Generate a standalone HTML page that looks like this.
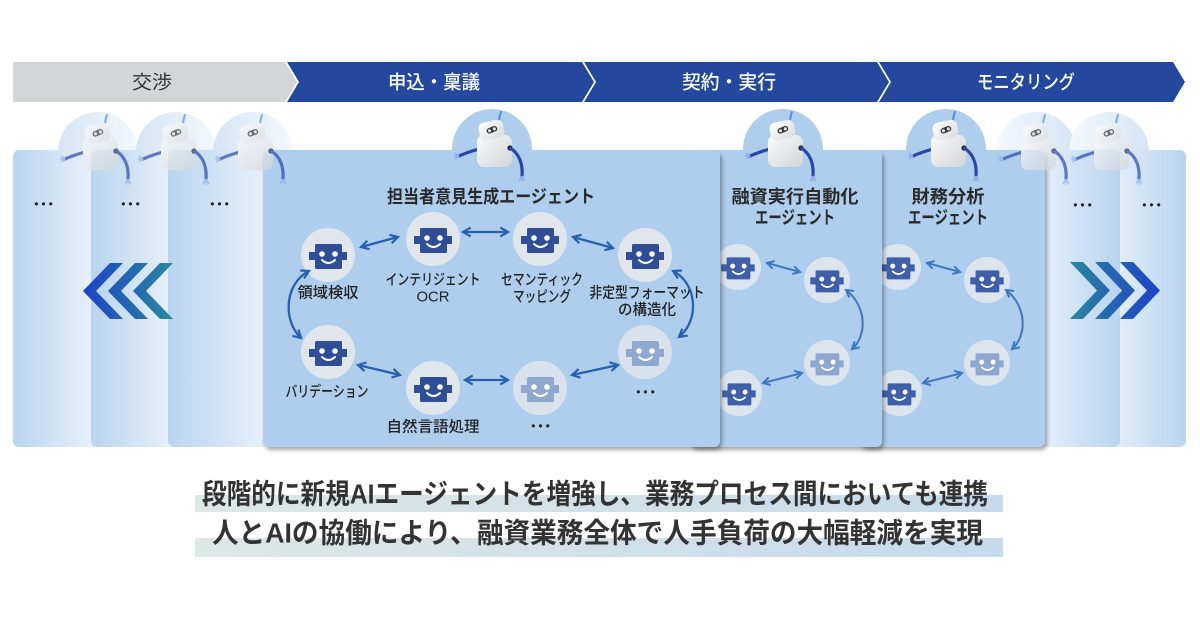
<!DOCTYPE html>
<html><head><meta charset="utf-8"><style>
html,body{margin:0;padding:0;background:#fff;}
svg{display:block;}
</style></head><body>
<svg width="1200" height="630" viewBox="0 0 1200 630" xmlns="http://www.w3.org/2000/svg" font-family="'Liberation Sans','Noto Sans CJK JP',sans-serif">
<defs>
  <linearGradient id="lp" x1="0" y1="0" x2="1" y2="0"><stop offset="0" stop-color="#b9d4ef"/><stop offset="1" stop-color="#ebf3fc"/></linearGradient>
  <linearGradient id="rp" x1="0" y1="0" x2="1" y2="0"><stop offset="0" stop-color="#ebf3fc"/><stop offset="1" stop-color="#b9d4ef"/></linearGradient>
  <linearGradient id="fcl" x1="0" y1="0" x2="1" y2="0"><stop offset="0" stop-color="#d5e5f5"/><stop offset="1" stop-color="#f3f8fd"/></linearGradient>
  <linearGradient id="fcr" x1="0" y1="0" x2="1" y2="0"><stop offset="0" stop-color="#f3f8fd"/><stop offset="1" stop-color="#d5e5f5"/></linearGradient>
  <linearGradient id="chl" gradientUnits="userSpaceOnUse" x1="83" y1="0" x2="172" y2="0"><stop offset="0" stop-color="#1c43c6"/><stop offset="1" stop-color="#2b86a0"/></linearGradient>
  <linearGradient id="chr" gradientUnits="userSpaceOnUse" x1="1070" y1="0" x2="1158" y2="0"><stop offset="0" stop-color="#2b86a0"/><stop offset="1" stop-color="#1c43c6"/></linearGradient>
  <linearGradient id="bodyG" x1="0" y1="0" x2="1" y2="1"><stop offset="0" stop-color="#fbfbfb"/><stop offset="1" stop-color="#d2d4d8"/></linearGradient>
  <linearGradient id="headG" x1="0" y1="0" x2="1" y2="1"><stop offset="0" stop-color="#ffffff"/><stop offset="1" stop-color="#d9dbdf"/></linearGradient>
  <linearGradient id="hl" x1="0" y1="0" x2="1" y2="0"><stop offset="0" stop-color="#dce8e5"/><stop offset="1" stop-color="#c6daeb"/></linearGradient>
  <filter id="sh" x="-5%" y="-5%" width="115%" height="115%"><feDropShadow dx="2" dy="3" stdDeviation="2" flood-color="#000" flood-opacity="0.35"/></filter>
  <marker id="am" viewBox="0 0 10 10" refX="8" refY="5" markerWidth="11" markerHeight="11" markerUnits="userSpaceOnUse" orient="auto-start-reverse"><path d="M1,1 L8,5 L1,9" fill="none" stroke="#2660b0" stroke-width="2"/></marker>
  <marker id="as" viewBox="0 0 10 10" refX="8" refY="5" markerWidth="10" markerHeight="10" markerUnits="userSpaceOnUse" orient="auto-start-reverse"><path d="M1,1 L8,5 L1,9" fill="none" stroke="#3b78c4" stroke-width="2"/></marker>
  <g id="ic">
    <rect x="-19" y="-3" width="7" height="8" fill="currentColor"/>
    <rect x="12" y="-3" width="7" height="8" fill="currentColor"/>
    <rect x="-13" y="-11" width="27" height="25" rx="1.5" fill="currentColor"/>
    <circle cx="-6" cy="-1" r="2.8" fill="#fff"/>
    <circle cx="7" cy="-1" r="2.8" fill="#fff"/>
    <path d="M-6,5 Q0.5,11 7,5" fill="none" stroke="#fff" stroke-width="2" stroke-linecap="round"/>
  </g>
  <g id="robot">
    <path d="M7,-26 Q7,-32 9,-37" stroke="#4b8fe0" stroke-width="2" fill="none" stroke-linecap="round"/>
    <path d="M-13,0 Q-24,3 -33,7" stroke="#2848a8" stroke-width="3.2" fill="none" stroke-linecap="round"/>
    <path d="M-33,7 l-4,-3 M-33,7 l-5,0 M-33,7 l-4,3" stroke="#8fb0ee" stroke-width="1.5" fill="none"/>
    <rect x="-15" y="-14" width="35" height="32" rx="7" fill="url(#bodyG)"/>
    <rect x="-13" y="-28" width="25" height="18" rx="6" fill="url(#headG)" transform="rotate(-12 0 -19)"/>
    <g transform="rotate(-22 0 -19)"><rect x="-5.5" y="-22" width="11" height="5.5" rx="2.7" fill="#333"/><circle cx="-2.6" cy="-19.2" r="1.6" fill="#ddd"/><circle cx="2.6" cy="-19.2" r="1.6" fill="#ddd"/></g>
    <circle cx="18" cy="-1" r="2.6" fill="#1a1a1a"/>
    <path d="M18,-1 C27,4 31,15 30,27" stroke="#2848a8" stroke-width="3.2" fill="none" stroke-linecap="round"/>
    <path d="M30,27 l-3,5 M30,27 l0,6 M30,27 l3,5" stroke="#8fb0ee" stroke-width="1.5" fill="none"/>
  </g>
</defs>

<!-- Banner -->
<polygon points="13,62 285,62 297,82 285,102 13,102" fill="#d4d5d7"/>
<polygon points="287,62 582,62 594,82 582,102 287,102 299,82" fill="#23489e"/>
<polygon points="584,62 877,62 889,82 877,102 584,102 596,82" fill="#23489e"/>
<polygon points="879,62 1173,62 1185,82 1173,102 879,102 891,82" fill="#23489e"/>
<text x="152" y="83" text-anchor="middle" dominant-baseline="central" font-size="19" fill="#333" textLength="40" lengthAdjust="spacingAndGlyphs">交渉</text>
<text x="434" y="83" text-anchor="middle" dominant-baseline="central" font-size="19" font-weight="500" fill="#fff" textLength="92" lengthAdjust="spacingAndGlyphs">申込・稟議</text>
<text x="729" y="83" text-anchor="middle" dominant-baseline="central" font-size="19" font-weight="500" fill="#fff" textLength="94" lengthAdjust="spacingAndGlyphs">契約・実行</text>
<text x="1026" y="83" text-anchor="middle" dominant-baseline="central" font-size="19" font-weight="500" fill="#fff" textLength="98" lengthAdjust="spacingAndGlyphs">モニタリング</text>

<!-- circles -->
<circle cx="98" cy="152" r="40" fill="url(#fcl)"/>
<circle cx="176" cy="152" r="40" fill="url(#fcl)"/>
<circle cx="253" cy="152" r="40" fill="url(#fcl)"/>
<circle cx="1036" cy="152" r="40" fill="url(#fcr)"/>
<circle cx="1109" cy="152" r="40" fill="url(#fcr)"/>
<circle cx="492" cy="149" r="40" fill="#afceed"/>
<circle cx="783" cy="149" r="40" fill="#afceed"/>
<circle cx="946" cy="149" r="40" fill="#afceed"/>

<!-- right faded panels -->
<rect x="1100" y="150" width="86" height="297" rx="6" fill="url(#rp)"/>
<rect x="1030" y="150" width="90" height="297" rx="6" fill="url(#rp)"/>
<!-- left faded panels -->
<rect x="13" y="150" width="86" height="297" rx="6" fill="url(#lp)"/>
<rect x="91" y="150" width="88" height="297" rx="6" fill="url(#lp)"/>
<rect x="168" y="150" width="105" height="297" rx="6" fill="url(#lp)"/>

<g font-size="12" fill="#222" text-anchor="middle" dominant-baseline="central" letter-spacing="3">
<text x="45" y="204">•••</text>
<text x="132" y="204">•••</text>
<text x="221" y="204">•••</text>
<text x="1084" y="205">•••</text>
<text x="1153" y="205">•••</text>
</g>

<!-- chevrons -->
<g fill="url(#chl)">
<polygon points="83,291 110,263 123,263 96,291 123,319 110,319"/>
<polygon points="108,291 135,263 148,263 121,291 148,319 135,319"/>
<polygon points="133,291 160,263 173,263 146,291 173,319 160,319"/>
</g>
<g fill="url(#chr)">
<polygon points="1070,262 1083,262 1110,290.5 1083,319 1070,319 1097,290.5"/>
<polygon points="1095,262 1108,262 1135,290.5 1108,319 1095,319 1122,290.5"/>
<polygon points="1120,262 1133,262 1160,290.5 1133,319 1120,319 1147,290.5"/>
</g>

<!-- 財務分析 panel -->
<rect x="860" y="150" width="185" height="297" rx="6" fill="#afceed" filter="url(#sh)"/>
<text x="948" y="197" text-anchor="middle" dominant-baseline="central" font-size="18" font-weight="700" fill="#2a2a2a" textLength="73" lengthAdjust="spacingAndGlyphs">財務分析</text>
<text x="948" y="218" text-anchor="middle" dominant-baseline="central" font-size="18" font-weight="700" fill="#2a2a2a" textLength="80" lengthAdjust="spacingAndGlyphs">エージェント</text>
<g fill="#dce4ee">
<circle cx="898" cy="267" r="23"/><circle cx="987" cy="280" r="23"/><circle cx="987" cy="363" r="23"/><circle cx="899" cy="393" r="23"/>
</g>
<use href="#ic" transform="translate(898 267) scale(0.88)" color="#3f60a9"/>
<use href="#ic" transform="translate(987 280) scale(0.88)" color="#3f60a9"/>
<use href="#ic" transform="translate(987 363) scale(0.88)" color="#8ea7d0"/>
<use href="#ic" transform="translate(899 393) scale(0.88)" color="#3f60a9"/>
<g stroke="#3b78c4" stroke-width="2" fill="none" marker-start="url(#as)" marker-end="url(#as)">
<line x1="927" y1="263" x2="960" y2="272"/>
<path d="M1006,290 C1026,305 1028,335 1012,349"/>
<line x1="962" y1="373" x2="923" y2="383"/>
</g>

<!-- 融資実行 panel -->
<rect x="690" y="150" width="192" height="297" rx="6" fill="#afceed" filter="url(#sh)"/>
<text x="795" y="197" text-anchor="middle" dominant-baseline="central" font-size="18" font-weight="700" fill="#2a2a2a" textLength="127" lengthAdjust="spacingAndGlyphs">融資実行自動化</text>
<text x="795" y="218" text-anchor="middle" dominant-baseline="central" font-size="18" font-weight="700" fill="#2a2a2a" textLength="80" lengthAdjust="spacingAndGlyphs">エージェント</text>
<g fill="#dce4ee">
<circle cx="738" cy="267" r="23"/><circle cx="827" cy="280" r="23"/><circle cx="827" cy="363" r="23"/><circle cx="739" cy="393" r="23"/>
</g>
<use href="#ic" transform="translate(738 267) scale(0.88)" color="#3f60a9"/>
<use href="#ic" transform="translate(827 280) scale(0.88)" color="#3f60a9"/>
<use href="#ic" transform="translate(827 363) scale(0.88)" color="#8ea7d0"/>
<use href="#ic" transform="translate(739 393) scale(0.88)" color="#3f60a9"/>
<g stroke="#3b78c4" stroke-width="2" fill="none" marker-start="url(#as)" marker-end="url(#as)">
<line x1="767" y1="263" x2="800" y2="272"/>
<path d="M846,290 C866,305 868,335 852,349"/>
<line x1="802" y1="373" x2="763" y2="383"/>
</g>

<!-- main panel -->
<rect x="263" y="150" width="457" height="297" rx="6" fill="#afceed" filter="url(#sh)"/>
<text x="491" y="197" text-anchor="middle" dominant-baseline="central" font-size="18" font-weight="700" fill="#2a2a2a" textLength="208" lengthAdjust="spacingAndGlyphs">担当者意見生成エージェント</text>
<g fill="#e1e6ed">
<circle cx="328" cy="255" r="27"/><circle cx="433" cy="239" r="27"/><circle cx="540" cy="239" r="27"/><circle cx="645" cy="255" r="27"/>
<circle cx="328" cy="352" r="27"/><circle cx="433" cy="388" r="27"/>
</g>
<g fill="#d9e1ec"><circle cx="540" cy="388" r="27"/><circle cx="645" cy="352" r="27"/></g>
<use href="#ic" transform="translate(328 255)" color="#2f4e96"/>
<use href="#ic" transform="translate(433 239)" color="#2f4e96"/>
<use href="#ic" transform="translate(540 239)" color="#2f4e96"/>
<use href="#ic" transform="translate(645 255)" color="#2f4e96"/>
<use href="#ic" transform="translate(328 352)" color="#2f4e96"/>
<use href="#ic" transform="translate(433 388)" color="#2f4e96"/>
<use href="#ic" transform="translate(540 388)" color="#8ea8d0"/>
<use href="#ic" transform="translate(645 352)" color="#8ea8d0"/>
<g stroke="#2660b0" stroke-width="2.3" fill="none" marker-start="url(#am)" marker-end="url(#am)">
<line x1="361" y1="247" x2="398" y2="237"/>
<line x1="463" y1="232" x2="508" y2="232"/>
<line x1="573" y1="237" x2="613" y2="248"/>
<line x1="358" y1="365" x2="400" y2="375"/>
<line x1="465" y1="380" x2="508" y2="380"/>
<line x1="572" y1="375" x2="618" y2="365"/>
<path d="M309,271 C285,283 282,320 301,338"/>
<path d="M673,271 C697,283 700,320 679,337"/>
</g>
<g font-size="15" font-weight="500" fill="#222" text-anchor="middle" dominant-baseline="central">
<text x="328" y="293" textLength="61" lengthAdjust="spacingAndGlyphs">領域検収</text>
<text x="433" y="280" textLength="95" lengthAdjust="spacingAndGlyphs">インテリジェント</text>
<text x="433" y="297" textLength="33" lengthAdjust="spacingAndGlyphs">OCR</text>
<text x="542" y="280" textLength="82" lengthAdjust="spacingAndGlyphs">セマンティック</text>
<text x="542" y="297" textLength="58" lengthAdjust="spacingAndGlyphs">マッピング</text>
<text x="647" y="293" textLength="115" lengthAdjust="spacingAndGlyphs">非定型フォーマット</text>
<text x="647" y="310" textLength="58" lengthAdjust="spacingAndGlyphs">の構造化</text>
<text x="327" y="392" textLength="83" lengthAdjust="spacingAndGlyphs">バリデーション</text>
<text x="433" y="427" textLength="93" lengthAdjust="spacingAndGlyphs">自然言語処理</text>
</g>
<g font-size="12" fill="#222" text-anchor="middle" dominant-baseline="central" letter-spacing="3">
<text x="542" y="426">•••</text>
<text x="647" y="392">•••</text>
</g>

<!-- robots -->
<g opacity="0.7">
<use href="#robot" transform="translate(98 152)"/>
<use href="#robot" transform="translate(176 152)"/>
<use href="#robot" transform="translate(253 152)"/>
<use href="#robot" transform="translate(1036 152)"/>
<use href="#robot" transform="translate(1109 152)"/>
</g>
<use href="#robot" transform="translate(492 149)"/>
<use href="#robot" transform="translate(783 149)"/>
<use href="#robot" transform="translate(946 149)"/>

<!-- bottom text -->
<rect x="195" y="495" width="808" height="17" fill="url(#hl)"/>
<rect x="195" y="538" width="808" height="19" fill="url(#hl)"/>
<text x="202" y="494" dominant-baseline="central" font-size="28" font-weight="700" fill="#333" textLength="786" lengthAdjust="spacingAndGlyphs">段階的に新規AIエージェントを増強し、業務プロセス間においても連携</text>
<text x="212" y="533" dominant-baseline="central" font-size="28" font-weight="700" fill="#333" textLength="771" lengthAdjust="spacingAndGlyphs">人とAIの協働により、融資業務全体で人手負荷の大幅軽減を実現</text>
</svg>
</body></html>
